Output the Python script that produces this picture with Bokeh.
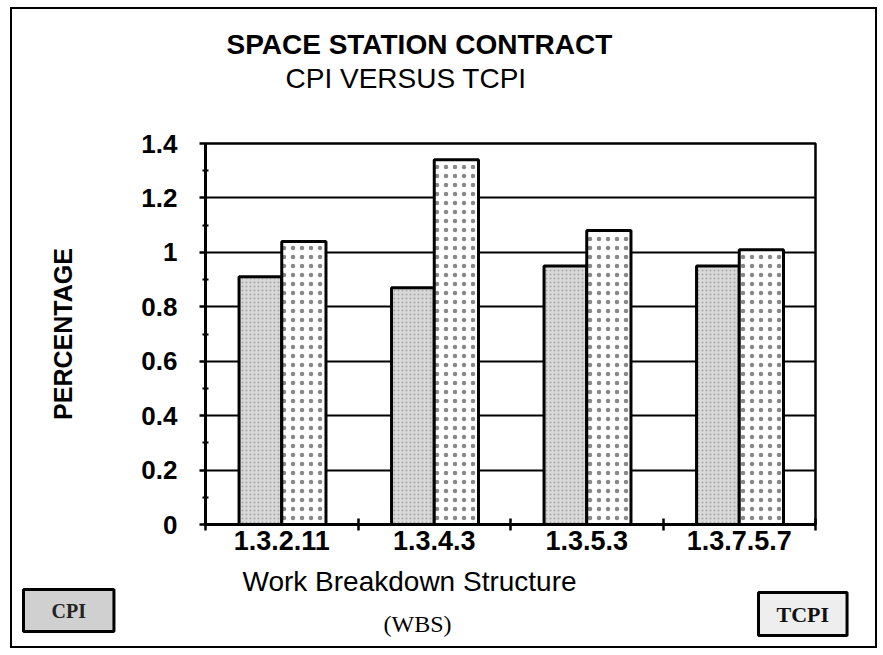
from bokeh.plotting import figure
from bokeh.models import (Range1d, FixedTicker, CustomJSTickFormatter, Title,
                          ColumnDataSource, InlineStyleSheet)
from bokeh.transform import dodge
from bokeh.embed import file_html
from bokeh.resources import INLINE

# ---------------- data ----------------
categories = ["1.3.2.11", "1.3.4.3", "1.3.5.3", "1.3.7.5.7"]
cpi = [0.91, 0.87, 0.95, 0.95]
tcpi = [1.04, 1.34, 1.08, 1.01]
y_ticks = [0, 0.2, 0.4, 0.6, 0.8, 1.0, 1.2, 1.4]
y_minor = [0.1, 0.3, 0.5, 0.7, 0.9, 1.1, 1.3]
series_names = ["CPI", "TCPI"]
title = "SPACE STATION CONTRACT"
subtitle = "CPI VERSUS TCPI"
y_label = "PERCENTAGE"
x_label = "Work Breakdown Structure"
x_sublabel = "(WBS)"

SANS = "Liberation Sans"
SERIF = "Liberation Serif"

n = len(categories)
slot_centers = [i + 0.5 for i in range(n)]      # one slot per category
slot_edges = list(range(n + 1))

W, H = 880, 654
FL, FR, FT, FB = 205, 815, 143, 524   # frame edges in page pixels
p = figure(width=W, height=H,
           x_range=Range1d(0, n), y_range=Range1d(0, max(y_ticks)),
           output_backend="svg", toolbar_location=None,
           min_border_left=FL, min_border_right=W - FR,
           min_border_top=FT, min_border_bottom=H - FB)
p.background_fill_color = "white"
p.border_fill_color = "white"
p.outline_line_color = "black"
p.outline_line_width = 2.5
p.stylesheets = [InlineStyleSheet(css=(
    ":host { position: relative; }"
    ":host::after { content: ''; position: absolute; top: 7px; left: 10px; right: 3px;"
    " bottom: 6px; border: 2px solid black; pointer-events: none; z-index: 100; }"))]

p.xgrid.visible = False
yg = p.ygrid[0]
yg.ticker = FixedTicker(ticks=y_ticks)
yg.grid_line_color = "black"
yg.grid_line_width = 2

ya = p.yaxis[0]
ya.ticker = FixedTicker(ticks=y_ticks, minor_ticks=y_minor)
ya.formatter = CustomJSTickFormatter(code="return String(Math.round(tick*10)/10)")
ya.axis_line_width = 3
ya.major_tick_line_width = 2.5
ya.major_tick_out = 6
ya.major_tick_in = 0
ya.minor_tick_in = 3
ya.minor_tick_out = 3
ya.minor_tick_line_width = 2
ya.major_label_standoff = 22
ya.major_label_text_font = SANS
ya.major_label_text_font_size = "26px"
ya.major_label_text_font_style = "bold"
ya.major_label_text_color = "black"
ya.axis_label = y_label
ya.axis_label_text_font = SANS
ya.axis_label_text_font_size = "25px"
ya.axis_label_text_font_style = "bold"
ya.axis_label_text_color = "black"
ya.axis_label_standoff = 61

xa = p.xaxis[0]
xa.ticker = FixedTicker(ticks=slot_centers, minor_ticks=slot_edges)
xa.formatter = CustomJSTickFormatter(args=dict(labels=categories),
                                     code="return labels[Math.floor(tick)] || ''")
xa.axis_line_width = 3
xa.major_tick_line_color = None
xa.major_tick_out = 0
xa.major_tick_in = 0
xa.minor_tick_in = 6
xa.minor_tick_out = 6
xa.minor_tick_line_width = 2.5
xa.major_label_standoff = 0
xa.major_label_text_font = SANS
xa.major_label_text_font_size = "27px"
xa.major_label_text_font_style = "bold"
xa.major_label_text_color = "black"

src = ColumnDataSource(dict(pos=slot_centers, cat=categories, cpi=cpi, tcpi=tcpi))
p.vbar(x=dodge("pos", -0.14), top="cpi", width=0.28, source=src,
       fill_color="#d9d9d9", line_color="black", line_width=3,
       hatch_pattern="dot", hatch_color="#a8a8a8", hatch_scale=4, hatch_weight=1)
p.vbar(x=dodge("pos", 0.145), top="tcpi", width=0.29, source=src,
       fill_color="white", line_color="black", line_width=3,
       hatch_pattern="dot", hatch_color="#555555", hatch_scale=9, hatch_weight=1.2,
       hatch_alpha=0.7)


def make_title(text, **kw):
    """Build a Title; drop options this Bokeh version refuses."""
    for drop in ([], ["padding"], ["padding", "standoff"]):
        try:
            return Title(text=text, **{k: v for k, v in kw.items() if k not in drop})
        except (AttributeError, ValueError, TypeError):
            continue
    return Title(text=text)


# ---- titles above the frame (first added sits nearest the frame) ----
# blank spacer row that keeps the two title lines up near the top edge
p.add_layout(make_title(".", align="left", offset=0, standoff=33, text_font=SANS,
                        text_font_size="20px", text_color="white"), "above")
p.add_layout(make_title(subtitle, align="left", offset=80, standoff=1,
                        text_font=SANS, text_font_size="28px", text_font_style="normal",
                        text_color="black"), "above")
p.add_layout(make_title(title, align="left", offset=21, standoff=1,
                        text_font=SANS, text_font_size="28px", text_font_style="bold",
                        text_color="black"), "above")

# ---- texts and legend boxes below the frame ----
p.add_layout(make_title(x_label, align="left", offset=37, standoff=26, vertical_align="top",
                        text_font=SANS, text_font_size="28px", text_font_style="normal",
                        text_color="black"), "below")
p.add_layout(make_title(series_names[0], align="left", offset=-182, standoff=-44,
                        vertical_align="top",
                        text_font=SERIF, text_font_size="20px", text_font_style="bold",
                        text_color="#222222",
                        background_fill_color="#d0d0d0", border_line_color="black",
                        border_line_width=3,
                        padding=dict(left=28, right=28, top=10, bottom=10)), "below")
p.add_layout(make_title(series_names[1], align="left", offset=553, standoff=-38,
                        vertical_align="top",
                        text_font=SERIF, text_font_size="22px", text_font_style="bold",
                        text_color="#111111",
                        background_fill_color="#eeeeee", border_line_color="black",
                        border_line_width=3,
                        padding=dict(left=18, right=18, top=9, bottom=9)), "below")
p.add_layout(make_title(x_sublabel, align="left", offset=178, standoff=-16,
                        vertical_align="top",
                        text_font=SERIF, text_font_size="24px", text_font_style="normal",
                        text_color="black"), "below")

open("out.html", "w").write(file_html(p, INLINE))
